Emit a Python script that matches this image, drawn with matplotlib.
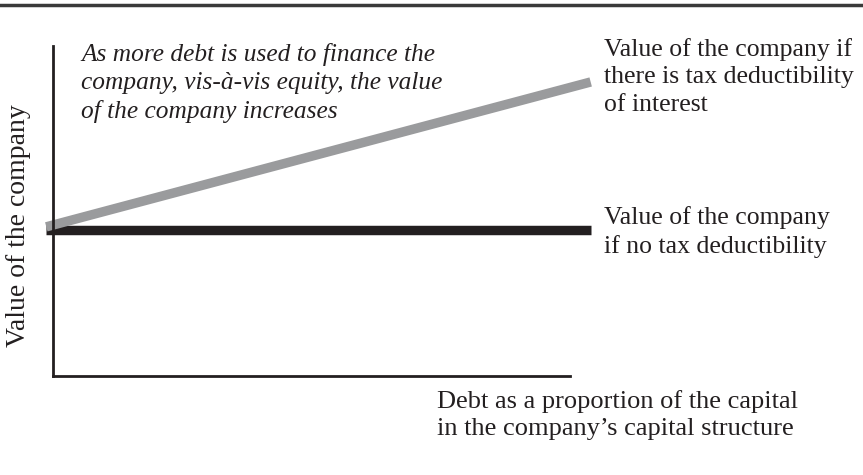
import matplotlib.pyplot as plt

# debt share of capital (x) and company value (y)
debt = [-0.013, 1.04]
value_no_tax = [0.442, 0.442]
value_with_tax = [0.452, 0.891]

W, H = 863, 475
SERIF = ["Liberation Serif", "DejaVu Serif"]
INK = "#231f20"
GRAY = "#9a9b9d"


def fx(px):
    return px / W


def fy(py):
    return 1 - py / H


fig = plt.figure(figsize=(W / 100, H / 100), dpi=100)
ax = fig.add_axes([fx(53), fy(376), (570 - 53) / W, (376 - 46) / H])
ax.set_xlim(0, 1)
ax.set_ylim(0, 1)
for s in ("top", "right"):
    ax.spines[s].set_visible(False)
for s in ("left", "bottom"):
    ax.spines[s].set_linewidth(2.0)
    ax.spines[s].set_color(INK)
ax.set_xticks([])
ax.set_yticks([])
ax.patch.set_alpha(0)

ax.plot(debt, value_no_tax, color=INK, lw=6.8, solid_capstyle="butt", clip_on=False)
ax.plot(debt, value_with_tax, color=GRAY, lw=6.8, solid_capstyle="butt", clip_on=False)

# top rule
fig.add_artist(plt.Line2D([0, 1], [fy(5), fy(5)], color="#3a3a3a", lw=2.5))

fig.text(fx(81), fy(83), "As more debt is used to finance the\n"
         "company, vis-à-vis equity, the value\n"
         "of the company increases",
         family=SERIF, style="italic", fontsize=18.3, color=INK,
         va="center", ha="left", linespacing=1.35)

fig.text(fx(604), fy(77), "Value of the company if\n"
         "there is tax deductibility\nof interest",
         family=SERIF, fontsize=18.5, color=INK, va="center", ha="left", linespacing=1.3)

fig.text(fx(604), fy(232), "Value of the company\nif no tax deductibility",
         family=SERIF, fontsize=18.5, color=INK, va="center", ha="left", linespacing=1.3)

fig.text(fx(437), fy(415), "Debt as a proportion of the capital\n"
         "in the company\u2019s capital structure",
         family=SERIF, fontsize=19, color=INK, va="center", ha="left", linespacing=1.3)

fig.text(fx(19), fy(226), "Value of the company", family=SERIF, fontsize=20,
         color=INK, rotation=90, va="center", ha="center")

fig.savefig("out.png", dpi=100)
